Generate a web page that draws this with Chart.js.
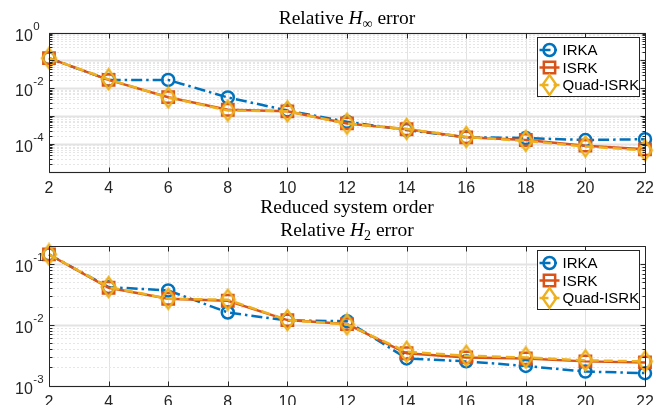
<!DOCTYPE html>
<html><head><meta charset="utf-8">
<script src="https://cdn.jsdelivr.net/npm/chart.js@4.4.0/dist/chart.umd.min.js"></script>
<style>
html,body{margin:0;padding:0;background:#fff;overflow:hidden;}
#wrap{position:relative;width:671px;height:405px;background:#fff;}
#c1{position:absolute;left:0;top:0;}
#c2{position:absolute;left:0;top:218px;}
</style></head><body>
<div id="wrap">
<canvas id="c1" width="671" height="218"></canvas>
<canvas id="c2" width="671" height="187"></canvas>
</div>
<script>
// ---------- data ----------
const orders = [2, 4, 6, 8, 10, 12, 14, 16, 18, 20, 22];
const seriesNames = ['IRKA', 'ISRK', 'Quad-ISRK'];
const hinfIRKA = [0.12, 0.02, 0.02, 0.0047, 0.0016, 0.00063, 0.00032, 0.000175, 0.000165, 0.00014, 0.00015];
const hinfISRK = [0.12, 0.02, 0.0048, 0.0017, 0.0015, 0.00055, 0.00034, 0.000175, 0.00014, 0.000088, 0.000065];
const hinfQuad = [0.12, 0.021, 0.0047, 0.0016, 0.0015, 0.00054, 0.00035, 0.00018, 0.00013, 0.000082, 0.00006];
const h2IRKA = [0.145, 0.042, 0.037, 0.016, 0.0118, 0.0115, 0.0028, 0.0025, 0.0021, 0.0017, 0.0016];
const h2ISRK = [0.145, 0.041, 0.027, 0.025, 0.012, 0.0103, 0.0034, 0.0029, 0.0028, 0.0025, 0.0024];
const h2Quad = [0.145, 0.042, 0.027, 0.026, 0.012, 0.0102, 0.0036, 0.0031, 0.0029, 0.0026, 0.0025];
const topYTicks = [1e-4, 1e-2, 1];
const botYTicks = [1e-3, 1e-2, 1e-1];
const xTitle = 'Reduced system order';

// ---------- styles ----------
const SANS = '"Liberation Sans", Arial, Helvetica, sans-serif';
const SERIF = '"Liberation Serif", "Times New Roman", serif';
const AX = '#262626';
const colors = ['#0072BD', '#D95319', '#EDB120'];
const dashes = [[11, 4, 2.5, 4], [], [9, 5]];
const TF = 19.5, SF = 14;

function makeDiamond(color) {
  const c = document.createElement('canvas');
  c.width = 19; c.height = 24;
  const g = c.getContext('2d');
  g.strokeStyle = color; g.lineWidth = 2.3; g.lineJoin = 'miter';
  g.beginPath();
  g.moveTo(9.5, 2); g.lineTo(16.5, 12); g.lineTo(9.5, 22); g.lineTo(2.5, 12); g.closePath();
  g.stroke();
  return c;
}
const diamond = makeDiamond(colors[2]);
const pointStyles = ['circle', 'rect', diamond];
const pointRadii = [6, 8, 8];

function datasets(vals) {
  return vals.map((arr, i) => ({
    label: seriesNames[i],
    data: orders.map((o, k) => ({x: o, y: arr[k]})),
    borderColor: colors[i],
    backgroundColor: 'rgba(0,0,0,0)',
    borderWidth: 2.5,
    borderDash: dashes[i],
    pointStyle: pointStyles[i],
    pointRadius: pointRadii[i],
    pointHoverRadius: pointRadii[i],
    pointBorderWidth: 2.5,
    pointBorderColor: colors[i],
    pointBackgroundColor: 'rgba(0,0,0,0)',
    tension: 0,
    clip: false,
    order: 2 - i
  }));
}

// ---------- plugins ----------
const matlabAxes = {
  id: 'matlabAxes',
  beforeDatasetsDraw(chart) {
    const {ctx, chartArea: a, scales: {x, y}} = chart;
    ctx.save();
    ctx.strokeStyle = '#e2e2e2'; ctx.lineWidth = 1;
    x.ticks.forEach(t => {
      const px = Math.round(x.getPixelForValue(t.value)) + 0.5;
      ctx.beginPath(); ctx.moveTo(px, a.top); ctx.lineTo(px, a.bottom); ctx.stroke();
    });
    const e0 = Math.floor(Math.log10(y.min)), e1 = Math.ceil(Math.log10(y.max));
    for (let e = e0; e <= e1; e++) {
      for (let m = 1; m <= 9; m++) {
        const v = m * Math.pow(10, e);
        if (v < y.min * 0.999 || v > y.max * 1.001) continue;
        const py = Math.round(y.getPixelForValue(v)) + 0.5;
        if (m === 1) {
          ctx.setLineDash([]); ctx.strokeStyle = '#e3e3e3'; ctx.lineWidth = 2;
        } else {
          ctx.setLineDash([2, 2]); ctx.strokeStyle = '#e6e6e6'; ctx.lineWidth = 1;
        }
        ctx.beginPath(); ctx.moveTo(a.left, py); ctx.lineTo(a.right, py); ctx.stroke();
      }
    }
    ctx.restore();
  },
  afterDatasetsDraw(chart) {
    const {ctx, chartArea: a, scales: {x, y}} = chart;
    ctx.save();
    ctx.strokeStyle = AX; ctx.lineWidth = 1; ctx.setLineDash([]);
    const L = Math.round(a.left) + 0.5, R = Math.round(a.right) + 0.5;
    const T = Math.round(a.top) + 0.5, B = Math.round(a.bottom) + 0.5;
    ctx.beginPath(); ctx.rect(L, T, R - L, B - T); ctx.stroke();
    x.ticks.forEach(t => {
      const px = Math.round(x.getPixelForValue(t.value)) + 0.5;
      ctx.beginPath(); ctx.moveTo(px, B); ctx.lineTo(px, B - 5);
      ctx.moveTo(px, T); ctx.lineTo(px, T + 5); ctx.stroke();
    });
    const e0 = Math.floor(Math.log10(y.min)), e1 = Math.ceil(Math.log10(y.max));
    for (let e = e0; e <= e1; e++) {
      for (let m = 1; m <= 9; m++) {
        const v = m * Math.pow(10, e);
        if (v < y.min * 0.999 || v > y.max * 1.001) continue;
        const py = Math.round(y.getPixelForValue(v)) + 0.5;
        const len = m === 1 ? 5 : 3;
        ctx.beginPath(); ctx.moveTo(L, py); ctx.lineTo(L + len, py);
        ctx.moveTo(R, py); ctx.lineTo(R - len, py); ctx.stroke();
      }
    }
    // y tick labels: 10 with superscript exponent, at the scale's tick positions
    ctx.fillStyle = AX; ctx.textAlign = 'left'; ctx.textBaseline = 'alphabetic';
    y.ticks.forEach(t => {
      const py = y.getPixelForValue(t.value);
      const ex = String(Math.round(Math.log10(t.value)));
      ctx.font = '16px ' + SANS;
      ctx.fillText('10', 15, py + 8);
      const w = ctx.measureText('10').width;
      ctx.font = '11.5px ' + SANS;
      ctx.fillText(ex, 15 + w + 0.5, py - 3);
    });
    ctx.restore();
  },
  afterDraw(chart, args, opts) {
    const {ctx, chartArea: a} = chart;
    ctx.save();
    const drawParts = (parts, cx, base) => {
      let w = 0;
      parts.forEach(p => { ctx.font = p.f; w += ctx.measureText(p.t).width; });
      let xx = cx - w / 2;
      ctx.fillStyle = '#000'; ctx.textBaseline = 'alphabetic'; ctx.textAlign = 'left';
      parts.forEach(p => { ctx.font = p.f; ctx.fillText(p.t, xx, base + (p.dy || 0)); xx += ctx.measureText(p.t).width; });
    };
    const cx = (a.left + a.right) / 2;
    if (opts.title) drawParts(opts.title, cx, opts.titleBase);
    if (opts.xTitle) drawParts([{t: opts.xTitle, f: TF + 'px ' + SERIF}], cx, opts.xTitleBase);
    // legend
    const bw = 102, bh = 59;
    const bx = Math.round(a.right - 6 - bw) + 0.5, by = Math.round(a.top + 4) + 0.5;
    ctx.fillStyle = '#fff'; ctx.fillRect(bx, by, bw, bh);
    ctx.strokeStyle = AX; ctx.lineWidth = 1; ctx.strokeRect(bx, by, bw, bh);
    chart.data.datasets.forEach((ds, i) => {
      const cy = by + 12.5 + i * 17.5;
      ctx.save();
      ctx.strokeStyle = ds.borderColor; ctx.lineWidth = 2.5; ctx.setLineDash(ds.borderDash);
      ctx.beginPath(); ctx.moveTo(bx + 2, cy); ctx.lineTo(bx + 22, cy); ctx.stroke();
      ctx.setLineDash([]);
      ctx.lineWidth = 2.5; ctx.fillStyle = 'rgba(0,0,0,0)';
      Chart.helpers.drawPoint(ctx, {pointStyle: ds.pointStyle, radius: ds.pointRadius, borderWidth: 2.5, rotation: 0}, bx + 12, cy);
      ctx.restore();
      ctx.fillStyle = '#000'; ctx.font = '15px ' + SANS; ctx.textBaseline = 'middle'; ctx.textAlign = 'left';
      ctx.fillText(ds.label, bx + 25, cy + 1);
    });
    ctx.restore();
  }
};

function makeChart(id, vals, ymin, ymax, yticks, pad, xh, plug) {
  return new Chart(document.getElementById(id), {
    type: 'line',
    data: {datasets: datasets(vals)},
    options: {
      responsive: false, animation: false, devicePixelRatio: 1,
      events: [],
      layout: {padding: pad},
      plugins: {legend: {display: false}, tooltip: {enabled: false}, title: {display: false}, matlabAxes: plug},
      scales: {
        x: {
          type: 'linear', min: 2, max: 22,
          ticks: {stepSize: 2, autoSkip: false, maxRotation: 0, padding: 7, color: AX, font: {family: SANS, size: 16}},
          grid: {display: false, drawTicks: false}, border: {display: false},
          afterFit: s => { s.height = xh; }
        },
        y: {
          type: 'logarithmic', min: ymin, max: ymax,
          afterBuildTicks: s => { s.ticks = yticks.map(v => ({value: v})); },
          ticks: {display: false},
          grid: {display: false, drawTicks: false}, border: {display: false},
          afterFit: s => { s.width = 49; }
        }
      }
    },
    plugins: [matlabAxes]
  });
}

makeChart('c1', [hinfIRKA, hinfISRK, hinfQuad], 1e-5, 1, topYTicks,
  {top: 32.5, right: 26, left: 0, bottom: 0}, 46,
  {title: [{t: 'Relative ', f: TF + 'px ' + SERIF}, {t: 'H', f: 'italic ' + TF + 'px ' + SERIF}, {t: '∞', f: SF + 'px ' + SERIF, dy: 4}, {t: ' error', f: TF + 'px ' + SERIF}],
   titleBase: 24, xTitle: xTitle, xTitleBase: 212.5});

makeChart('c2', [h2IRKA, h2ISRK, h2Quad], 1e-3, 0.2, botYTicks,
  {top: 28, right: 26, left: 0, bottom: 0}, 19.5,
  {title: [{t: 'Relative ', f: TF + 'px ' + SERIF}, {t: 'H', f: 'italic ' + TF + 'px ' + SERIF}, {t: '2', f: SF + 'px ' + SERIF, dy: 4}, {t: ' error', f: TF + 'px ' + SERIF}],
   titleBase: 17.7});
</script>
</body></html>
